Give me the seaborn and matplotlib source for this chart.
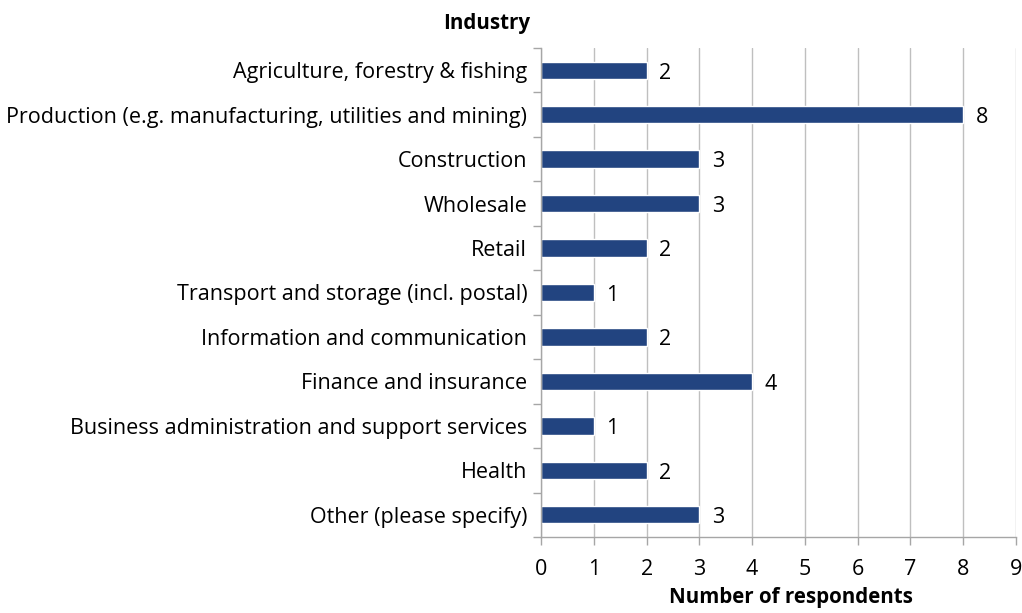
import matplotlib
matplotlib.use("Agg")
import matplotlib.pyplot as plt
import seaborn as sns
import pandas as pd
import numpy as np

categories = [
    "Agriculture, forestry & fishing",
    "Production (e.g. manufacturing, utilities and mining)",
    "Construction",
    "Wholesale",
    "Retail",
    "Transport and storage (incl. postal)",
    "Information and communication",
    "Finance and insurance",
    "Business administration and support services",
    "Health",
    "Other (please specify)",
]
values = [2, 8, 3, 3, 2, 1, 2, 4, 1, 2, 3]
x_ticks = [0, 1, 2, 3, 4, 5, 6, 7, 8, 9]

sns.set_theme(style="white")
plt.rcParams["font.family"] = ["Open Sans", "DejaVu Sans"]
plt.rcParams["text.color"] = "#000000"

df = pd.DataFrame({"Industry": categories, "Respondents": values})

fig = plt.figure(figsize=(10.22, 6.13), dpi=100)
ax = fig.add_axes([0.5294, 0.124, 0.4647, 0.7977])

bar_color = "#224480"
sns.barplot(data=df, y="Industry", x="Respondents", orient="h", color=bar_color,
            width=0.39, ax=ax, saturation=1)

fs = 15.5
ax.set_xlim(0, 9)
ax.set_ylim(len(categories) - 0.5, -0.5)
ax.set_xticks(x_ticks)
ax.set_xticklabels([str(t) for t in x_ticks], fontsize=fs, color="#000000")
ax.tick_params(axis="x", length=6, width=1, color="#a6a6a6", pad=9.5, direction="out", bottom=True)
ax.tick_params(axis="y", which="major", length=0, labelsize=fs, pad=10, labelcolor="#000000")
ax.set_yticks(np.arange(-0.5, len(categories) + 0.5, 1), minor=True)
ax.tick_params(axis="y", which="minor", length=6, width=1, color="#a6a6a6", left=True)

ax.grid(axis="x", color="#bfbfbf", linewidth=1)
ax.set_axisbelow(True)
for s in ["top", "right"]:
    ax.spines[s].set_visible(False)
for s in ["left", "bottom"]:
    ax.spines[s].set_color("#a6a6a6")
    ax.spines[s].set_linewidth(1)

for i, v in enumerate(values):
    ax.annotate(str(v), xy=(v, i), xytext=(9, -2), textcoords="offset points",
                va="center", ha="left", fontsize=fs, color="#000000")

ax.set_ylabel("")
ax.set_xlabel("Number of respondents", fontsize=14.8, fontweight="bold", color="#000000")
ax.xaxis.set_label_coords((791 - 541) / 475, -(598 - 537) / 489)
ax.xaxis.label.set_va("center")

fig.text(487 / 1022, 1 - 24 / 613, "Industry", ha="center", va="center",
         fontsize=14.8, fontweight="bold", color="#000000")

fig.savefig("out.png", dpi=100)
